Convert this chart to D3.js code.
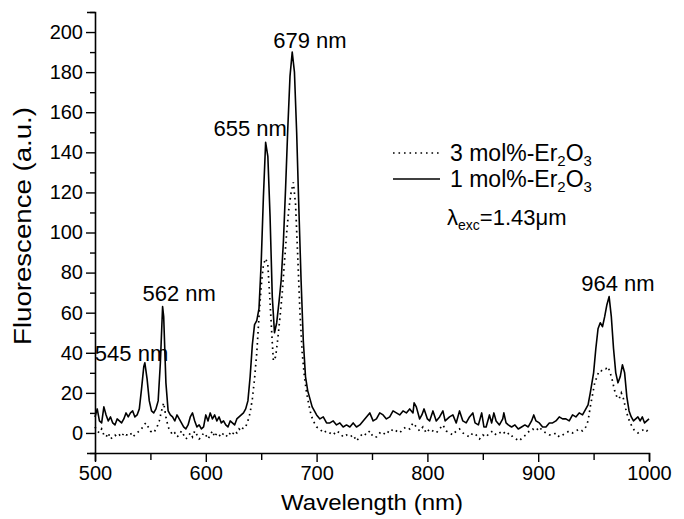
<!DOCTYPE html>
<html><head><meta charset="utf-8">
<script src="https://cdn.jsdelivr.net/npm/d3@7"></script>
<style>body{margin:0;background:#fff}svg{display:block}text{font-family:"Liberation Sans",Arial,sans-serif;fill:#000}</style>
</head><body><svg id="c" width="684" height="519"></svg>
<script>
// 1 mol%-Er2O3 (solid)
const wl1 = [500,502,504,506,508,510,512,514,516,518,520,522,524,526,528,530,532,534,536,538,540,542,544,545,547,549,551,553,555,557,559,561,562,564,566,568,570,572,574,576,578,580,582,584,586,588,590,592,594,596,598,600,602,604,606,608,610,612,614,616,618,620,622,624,626,628,630,632,634,636,638,640,642,644,646,648,650,652,654,656,658,659,660,662,664,666,668,670,672,674,676,678,680,682,684,686,688,690,692,694,696,698,700,703,706,709,712,715,718,721,724,727,730,733,736,739,742,745,748,751,754,757,760,763,766,769,772,775,778,781,784,787,788,790,793,795,797,800,802,805,808,811,814,816,818,820,823,826,829,832,835,838,841,843,846,849,851,853,856,858,860,862,865,868,869,871,873,876,879,882,885,888,891,894,896,898,901,904,907,910,913,916,919,922,925,928,931,934,937,940,942,945,947,950,952,954,956,958,960,962,964,966,968,970,972,974,976,978,980,982,984,986,988,990,992,994,996,998,1000];
const fl1 = [8,12,6,5,13,9,6,8,5,4,7,6,5,7,10,8,10,11,8,9,12,22,33,35,27,16,11,10,12,16,35,63,58,25,11,9,8,6,9,7,5,3,2,4,8,10,6,3,4,2,3,9,6,10,7,9,6,8,5,6,4,3,6,5,4,7,8,9,10,12,16,28,44,54,56,62,85,118,145,138,108,88,68,50,55,65,76,95,122,152,178,190,180,150,112,76,46,28,21,17,13,11,9,7,8,5,5,6,4,5,3,4,3,5,3,4,6,8,10,6,7,10,9,7,8,11,10,9,11,10,12,10,15,13,7,9,12,7,6,11,6,8,11,6,7,8,9,5,11,6,5,8,10,5,4,10,3,3,9,5,10,6,4,7,10,5,4,3,4,2,3,4,3,6,9,6,5,3,3,5,5,6,8,7,7,6,9,8,10,9,11,14,20,30,42,52,55,53,58,64,68,58,42,30,25,28,34,30,18,11,8,6,7,8,6,8,5,6,7];
// 3 mol%-Er2O3 (dotted)
const wl3 = [500,502,504,506,508,510,512,514,516,518,520,522,524,526,528,530,532,534,536,538,540,542,544,546,548,550,552,554,556,558,560,562,564,566,568,570,572,574,576,578,580,582,584,586,588,590,592,594,596,598,600,602,604,606,608,610,612,614,616,618,620,622,624,626,628,630,632,634,636,638,640,642,644,646,648,650,652,654,656,658,660,661,663,665,667,669,671,673,675,677,679,681,683,685,687,689,691,693,695,697,700,703,706,709,712,715,718,721,724,727,730,733,736,739,742,745,748,751,754,757,760,763,766,769,772,775,778,781,784,787,790,793,796,799,802,805,808,811,814,817,820,823,826,829,832,835,838,841,844,847,850,853,856,859,862,865,868,871,874,877,880,883,886,889,892,895,898,901,904,907,910,913,916,919,922,925,928,931,934,937,940,943,945,947,949,951,953,955,957,959,961,963,965,967,969,971,973,975,977,979,981,983,985,987,990,993,996,998,1000];
const fl3 = [3,1,0,2,-1,-2,0,-3,-2,-1,-2,-1,-2,0,-1,-1,0,-2,-1,0,1,2,4,5,3,1,0,1,3,6,11,15,8,3,1,-1,0,-2,-1,1,-1,-3,-2,0,-2,1,-1,-3,-2,0,-1,-3,-1,1,-2,0,-1,-2,0,-1,-2,0,-1,1,0,2,1,3,3,6,10,17,27,40,58,73,84,87,84,65,45,36,38,47,58,70,85,100,112,120,125,114,88,60,40,28,20,14,9,6,3,2,0,1,0,-1,1,0,-2,-1,-2,-1,-4,-2,0,-1,1,-2,-2,0,-1,1,0,2,1,0,2,3,2,5,3,1,3,0,2,1,0,2,4,1,0,-1,1,2,0,-1,-2,0,-1,-3,-1,-2,0,1,-1,0,1,-1,0,-2,-3,-4,-2,-1,1,2,1,3,1,0,-1,-1,0,-2,-1,0,1,0,1,2,1,3,6,13,19,25,28,31,31,32,32,33,30,26,21,18,17,20,17,12,8,5,3,1,0,1,2,1,2];

const xTicks = [500,600,700,800,900,1000];
const yTicks = [0,20,40,60,80,100,120,140,160,180,200];
const peakLabels = [
  {text:"679 nm", nm:694, v:192},
  {text:"655 nm", nm:640, v:148},
  {text:"562 nm", nm:576, v:66},
  {text:"545 nm", nm:533, v:36},
  {text:"964 nm", nm:972, v:71}
];
const legendItems = [
  {label:"3 mol%-Er", sub:"2", tail:"O", sub2:"3", dash:"1.6,3.9"},
  {label:"1 mol%-Er", sub:"2", tail:"O", sub2:"3", dash:null}
];

const svg = d3.select("#c");
const m = {l:95, r:35, t:12, b:66};
const W = 684, H = 519;
const x = d3.scaleLinear().domain([500,1000]).range([m.l, W-m.r]);
const y = d3.scaleLinear().domain([-10,210]).range([H-m.b, m.t]);

const FS = 20, FL = 22, FT = 22;

// curves
const line = d3.line().x(d=>x(d[0])).y(d=>y(d[1]));
const d1 = wl1.map((w,i)=>[w,fl1[i]]);
const d3s = wl3.map((w,i)=>[w,fl3[i]]);
svg.append("path").attr("d",line(d3s)).attr("fill","none").attr("stroke","#000")
  .attr("stroke-width",1.7).attr("stroke-dasharray","1.6,3.9");
svg.append("path").attr("d",line(d1)).attr("fill","none").attr("stroke","#000")
  .attr("stroke-width",1.6).attr("stroke-linejoin","round");

// axes
const xAxis = d3.axisBottom(x).tickValues(d3.range(500,1001,50)).tickSize(8)
  .tickFormat(d=> xTicks.includes(d)? d : "");
const gx = svg.append("g").attr("transform",`translate(0,${y(-10)})`).call(xAxis);
gx.selectAll("text").attr("font-size",FS).attr("y",10).attr("dy","0.85em");
gx.selectAll(".tick line").attr("y2",d=> xTicks.includes(d)?9:7);

const yAxis = d3.axisLeft(y).tickValues(d3.range(-10,211,10)).tickSize(8)
  .tickFormat(d=> yTicks.includes(d)? d : "");
const gy = svg.append("g").attr("transform",`translate(${x(500)},0)`).call(yAxis);
gy.selectAll("text").attr("font-size",FS).attr("x",-12);
gy.selectAll(".tick line").attr("x2",d=> yTicks.includes(d)?-9:-5);
svg.selectAll(".domain").attr("stroke-width",1.6);
svg.selectAll(".tick line").attr("stroke-width",1.4);

// axis titles
svg.append("text").attr("x",(x(500)+x(1000))/2).attr("y",510).attr("text-anchor","middle")
  .attr("font-size",FT).attr("textLength",182).attr("lengthAdjust","spacingAndGlyphs")
  .text("Wavelength (nm)");
svg.append("text").attr("transform",`translate(31,226) rotate(-90)`)
  .attr("text-anchor","middle").attr("font-size",FT+1)
  .attr("textLength",238).attr("lengthAdjust","spacingAndGlyphs").text("Fluorescence (a.u.)");

// peak labels
peakLabels.forEach(p=>{
  svg.append("text").attr("x",x(p.nm)).attr("y",y(p.v)).attr("text-anchor","middle")
    .attr("font-size",FL).text(p.text);
});

// legend
legendItems.forEach((it,i)=>{
  const ly = 153 + i*26;
  const l = svg.append("line").attr("x1",393).attr("x2",440).attr("y1",ly).attr("y2",ly)
    .attr("stroke","#000").attr("stroke-width",it.dash?1.7:1.6);
  if(it.dash) l.attr("stroke-dasharray",it.dash);
  const t = svg.append("text").attr("x",450).attr("y",ly+8).attr("font-size",FL+1);
  t.append("tspan").text(it.label);
  t.append("tspan").attr("font-size",15).attr("dy",5).text(it.sub);
  t.append("tspan").attr("dy",-5).text(it.tail);
  t.append("tspan").attr("font-size",15).attr("dy",5).text(it.sub2);
});
const lt = svg.append("text").attr("x",447).attr("y",225).attr("font-size",FL);
lt.append("tspan").text("λ");
lt.append("tspan").attr("font-size",14).attr("dy",5).text("exc");
lt.append("tspan").attr("dy",-5).text("=1.43μm");
</script></body></html>
